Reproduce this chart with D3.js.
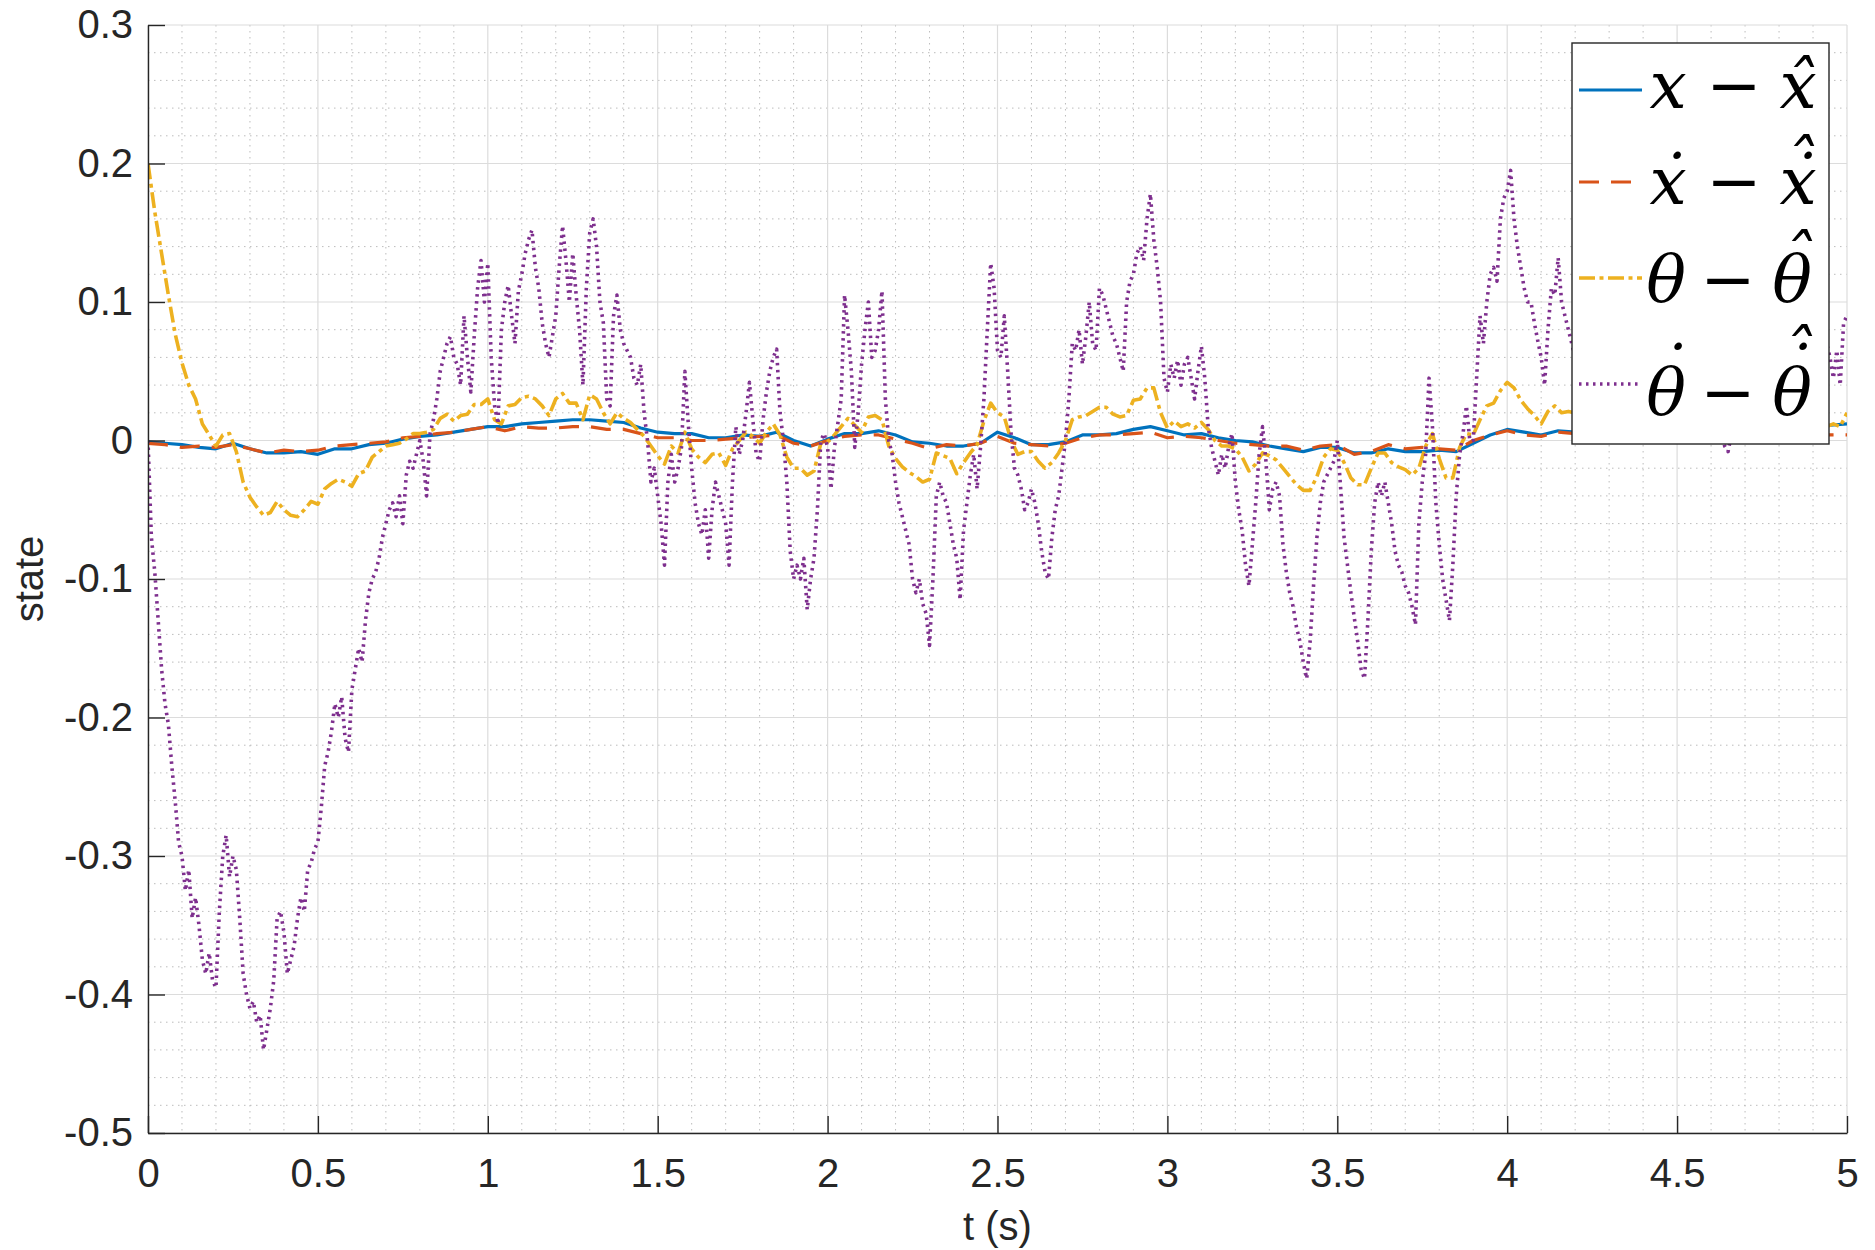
<!DOCTYPE html>
<html>
<head>
<meta charset="utf-8">
<script src="https://cdn.jsdelivr.net/npm/d3@7"></script>
<style>
body { margin: 0; background: #fff; }
</style>
</head>
<body>
<svg id="chart" width="1875" height="1250"></svg>
<script>
var WIDTH = 1875,
    HEIGHT = 1250;

// axis ticks
var xTicks = [0, 0.5, 1, 1.5, 2, 2.5, 3, 3.5, 4, 4.5, 5],
    xTickLabels = ['0', '0.5', '1', '1.5', '2', '2.5', '3', '3.5', '4', '4.5', '5'],
    yTicks = [-0.5, -0.4, -0.3, -0.2, -0.1, 0, 0.1, 0.2, 0.3],
    yTickLabels = ['-0.5', '-0.4', '-0.3', '-0.2', '-0.1', '0', '0.1', '0.2', '0.3'];

// sample spacing (s) of each series, first sample at t = 0
var stepX = 0.05, stepXdot = 0.05, stepTheta = 0.02, stepThetaDot = 0.01;

// x - xhat
var errX = [
    -0.001, -0.002, -0.003, -0.005, -0.006, -0.002, -0.006, -0.009, -0.009, -0.008,
    -0.01, -0.006, -0.006, -0.003, -0.002, 0.001, 0.003, 0.004, 0.006, 0.008,
    0.01, 0.01, 0.012, 0.013, 0.014, 0.015, 0.015, 0.014, 0.013, 0.009,
    0.006, 0.005, 0.005, 0.002, 0.002, 0.004, 0.003, 0.006, 0.0, -0.004,
    0.001, 0.005, 0.005, 0.007, 0.004, -0.001, -0.002, -0.004, -0.004, -0.002,
    0.006, 0.002, -0.003, -0.003, -0.001, 0.004, 0.004, 0.005, 0.008, 0.01,
    0.007, 0.004, 0.005, 0.002, 0.0, -0.001, -0.004, -0.006, -0.008, -0.005,
    -0.005, -0.009, -0.009, -0.006, -0.008, -0.008, -0.007, -0.008, -0.002, 0.004,
    0.008, 0.006, 0.004, 0.007, 0.006, 0.006, 0.005, 0.006, 0.007, 0.006,
    0.005, 0.006, 0.007, 0.008, 0.007, 0.008, 0.009, 0.008, 0.009, 0.011,
    0.012
];

// xdot - xdothat
var errXdot = [
    -0.002, -0.003, -0.005, -0.004, -0.005, -0.003, -0.006, -0.009, -0.007, -0.008,
    -0.007, -0.004, -0.003, -0.002, -0.001, 0.002, 0.003, 0.005, 0.006, 0.008,
    0.01, 0.007, 0.01, 0.009, 0.009, 0.01, 0.01, 0.008, 0.008, 0.005,
    0.002, 0.002, 0.0, 0.0, 0.001, 0.002, 0.003, 0.004, -0.002, -0.004,
    0.0, 0.003, 0.004, 0.004, 0.001, -0.002, -0.006, -0.003, -0.004, -0.002,
    0.003, -0.002, -0.003, -0.004, -0.002, 0.002, 0.004, 0.004, 0.005, 0.006,
    0.002, 0.003, 0.002, 0.0, -0.002, -0.003, -0.004, -0.004, -0.007, -0.004,
    -0.003, -0.01, -0.008, -0.003, -0.006, -0.005, -0.006, -0.007, 0.0, 0.004,
    0.007, 0.004, 0.003, 0.006, 0.005, 0.004, 0.005, 0.004, 0.003, 0.004,
    0.005, 0.004, 0.003, 0.004, 0.005, 0.004, 0.003, 0.004, 0.004, 0.004,
    0.004
];

// theta - thetahat
var errTheta = [
    0.2, 0.165, 0.135, 0.105, 0.077, 0.056, 0.04, 0.03, 0.012, 0.004,
    -0.004, 0.004, 0.005, -0.008, -0.03, -0.041, -0.048, -0.054, -0.052, -0.044,
    -0.05, -0.054, -0.055, -0.05, -0.044, -0.046, -0.035, -0.031, -0.028, -0.03,
    -0.033, -0.024, -0.022, -0.012, -0.008, -0.004, -0.003, -0.002, 0.001, 0.005,
    0.005, 0.006, 0.008, 0.016, 0.019, 0.014, 0.018, 0.019, 0.026, 0.026,
    0.03, 0.015, 0.012, 0.025, 0.026, 0.031, 0.032, 0.03, 0.025, 0.018,
    0.03, 0.034, 0.027, 0.027, 0.015, 0.033, 0.03, 0.02, 0.012, 0.02,
    0.016, 0.013, 0.008, 0.003, -0.004, -0.011, -0.017, -0.004, -0.009, 0.006,
    -0.006, -0.012, -0.016, -0.01, -0.009, -0.018, -0.006, 0.0, 0.006, 0.003,
    -0.002, 0.006, 0.012, 0.004, -0.012, -0.02, -0.02, -0.025, -0.022, -0.002,
    -0.001, 0.004, 0.01, 0.016, 0.011, 0.006, 0.017, 0.018, 0.015, -0.004,
    -0.013, -0.019, -0.023, -0.026, -0.03, -0.028, -0.009, -0.011, -0.013, -0.024,
    -0.016, -0.009, -0.003, 0.014, 0.027, 0.02, 0.017, 0.0, -0.01, -0.008,
    -0.008, -0.015, -0.02, -0.016, -0.009, 0.0, 0.015, 0.017, 0.018, 0.021,
    0.024, 0.024, 0.019, 0.017, 0.018, 0.029, 0.03, 0.038, 0.038, 0.02,
    0.009, 0.014, 0.01, 0.012, 0.009, 0.013, 0.008, 0.0, -0.004, -0.004,
    -0.006, -0.012, -0.022, -0.017, -0.009, -0.011, -0.014, -0.02, -0.026, -0.032,
    -0.036, -0.036, -0.026, -0.012, -0.006, -0.007, -0.016, -0.027, -0.032, -0.032,
    -0.02, -0.009, -0.009, -0.016, -0.019, -0.021, -0.025, -0.02, -0.004, 0.005,
    -0.013, -0.027, -0.027, -0.005, 0.005, 0.004, 0.015, 0.025, 0.027, 0.036,
    0.042, 0.038, 0.029, 0.023, 0.018, 0.012, 0.021, 0.025, 0.02, 0.021,
    0.02, 0.018, 0.015, 0.017, 0.02, 0.018, 0.015, 0.012, 0.014, 0.016,
    0.018, 0.02, 0.017, 0.015, 0.012, 0.01, 0.013, 0.015, 0.018, 0.016,
    0.014, 0.012, 0.015, 0.017, 0.016, 0.014, 0.012, 0.011, 0.013, 0.015,
    0.016, 0.014, 0.012, 0.01, 0.012, 0.013, 0.012, 0.01, 0.012, 0.01,
    0.02
];

// thetadot - thetadothat
var errThetaDot = [
    0.0, -0.07, -0.095, -0.13, -0.165, -0.19, -0.205, -0.235, -0.26, -0.29,
    -0.30, -0.325, -0.31, -0.345, -0.33, -0.35, -0.375, -0.385, -0.37, -0.39,
    -0.395, -0.34, -0.30, -0.285, -0.315, -0.30, -0.31, -0.345, -0.385, -0.40,
    -0.41, -0.405, -0.42, -0.415, -0.44, -0.425, -0.41, -0.39, -0.345, -0.34,
    -0.355, -0.385, -0.375, -0.365, -0.345, -0.33, -0.34, -0.31, -0.305, -0.295,
    -0.29, -0.265, -0.235, -0.225, -0.21, -0.19, -0.2, -0.185, -0.215, -0.225,
    -0.18, -0.165, -0.15, -0.16, -0.13, -0.11, -0.1, -0.095, -0.085, -0.07,
    -0.06, -0.05, -0.045, -0.055, -0.04, -0.06, -0.025, -0.015, -0.02, -0.01,
    0.0, -0.015, -0.04, 0.005, 0.015, 0.03, 0.05, 0.06, 0.07, 0.075,
    0.06, 0.055, 0.04, 0.09, 0.06, 0.035, 0.075, 0.11, 0.13, 0.1,
    0.128, 0.06, 0.025, 0.012, 0.08, 0.1, 0.112, 0.09, 0.07, 0.108,
    0.12, 0.135, 0.145, 0.152, 0.125, 0.11, 0.085, 0.07, 0.06, 0.075,
    0.09, 0.125, 0.155, 0.13, 0.1, 0.135, 0.105, 0.08, 0.04, 0.11,
    0.15, 0.16, 0.14, 0.1, 0.085, 0.03, 0.025, 0.09, 0.105, 0.08,
    0.07, 0.065, 0.06, 0.045, 0.04, 0.055, 0.02, 0.0, -0.03, -0.02,
    -0.04, -0.06, -0.09, -0.03, -0.01, -0.03, -0.02, -0.005, 0.05, 0.012,
    -0.02, -0.045, -0.06, -0.068, -0.05, -0.085, -0.05, -0.03, -0.04, -0.05,
    -0.06, -0.09, -0.03, 0.01, -0.01, 0.0, 0.02, 0.042, 0.015, -0.01,
    -0.015, 0.015, 0.035, 0.05, 0.06, 0.066, 0.02, 0.0, -0.03, -0.08,
    -0.1, -0.09, -0.1, -0.085, -0.122, -0.1, -0.085, -0.05, 0.0, 0.005,
    -0.005, -0.035, -0.005, 0.012, 0.03, 0.105, 0.08, 0.05, -0.005, 0.02,
    0.055, 0.08, 0.1, 0.06, 0.065, 0.08, 0.108, 0.03, 0.0, -0.01,
    -0.03, -0.045, -0.055, -0.065, -0.075, -0.1, -0.11, -0.1, -0.118, -0.125,
    -0.148, -0.1, -0.04, -0.03, -0.04, -0.045, -0.06, -0.075, -0.085, -0.115,
    -0.065, -0.045, -0.025, -0.01, -0.035, -0.005, 0.03, 0.08, 0.128, 0.11,
    0.065, 0.06, 0.09, 0.05, 0.005, -0.02, -0.025, -0.035, -0.05, -0.045,
    -0.035, -0.045, -0.06, -0.08, -0.095, -0.1, -0.07, -0.05, -0.04, -0.02,
    0.0, 0.03, 0.07, 0.065, 0.08, 0.055, 0.075, 0.1, 0.07, 0.065,
    0.11, 0.105, 0.095, 0.085, 0.075, 0.07, 0.06, 0.05, 0.1, 0.115,
    0.12, 0.135, 0.14, 0.13, 0.16, 0.178, 0.145, 0.125, 0.1, 0.045,
    0.035, 0.055, 0.045, 0.058, 0.04, 0.055, 0.06, 0.045, 0.03, 0.05,
    0.068, 0.045, 0.01, -0.005, -0.015, -0.025, -0.01, -0.02, -0.005, 0.005,
    -0.03, -0.05, -0.065, -0.09, -0.105, -0.075, -0.045, -0.01, 0.01, -0.015,
    -0.05, -0.035, -0.03, -0.04, -0.075, -0.095, -0.11, -0.12, -0.135, -0.145,
    -0.16, -0.172, -0.145, -0.105, -0.07, -0.045, -0.03, -0.025, -0.02, -0.015,
    0.0, -0.035, -0.07, -0.09, -0.11, -0.128, -0.145, -0.165, -0.172, -0.13,
    -0.08, -0.045, -0.03, -0.04, -0.03, -0.045, -0.06, -0.08, -0.09, -0.095,
    -0.105, -0.11, -0.12, -0.133, -0.06, -0.03, -0.01, 0.045, 0.01, -0.045,
    -0.075, -0.1, -0.115, -0.13, -0.09, -0.04, -0.01, 0.005, 0.025, 0.0,
    0.0, 0.045, 0.09, 0.07, 0.1, 0.12, 0.125, 0.115, 0.16, 0.175,
    0.18, 0.195, 0.16, 0.14, 0.125, 0.11, 0.1, 0.1, 0.085, 0.072,
    0.06, 0.04, 0.08, 0.11, 0.105, 0.132, 0.1, 0.09, 0.08, 0.07,
    0.06, 0.05, 0.07, 0.04, 0.03, 0.05, 0.06, 0.04, 0.02, 0.03,
    0.05, 0.07, 0.06, 0.04, 0.03, 0.05, 0.04, 0.02, 0.03, 0.05,
    0.06, 0.04, 0.03, 0.02, 0.04, 0.05, 0.03, 0.02, 0.03, 0.04,
    0.06, 0.05, 0.03, 0.02, 0.04, 0.05, 0.04, 0.03, 0.02, 0.03,
    0.02, 0.015, 0.01, 0.005, -0.004, -0.008, 0.005, 0.02, 0.03, 0.04,
    0.05, 0.04, 0.03, 0.05, 0.06, 0.05, 0.04, 0.03, 0.04, 0.05,
    0.06, 0.07, 0.05, 0.04, 0.05, 0.06, 0.05, 0.04, 0.05, 0.06,
    0.07, 0.06, 0.05, 0.06, 0.07, 0.06, 0.045, 0.065, 0.04, 0.085,
    0.09
];

var series = [
    { values: errX, step: stepX, color: '#0072BD', dash: null, width: 3.2 },
    { values: errXdot, step: stepXdot, color: '#D95319', dash: '20,12', width: 3.2 },
    { values: errTheta, step: stepTheta, color: '#EDB120', dash: '16,4.5,4,4.5', width: 3.6 },
    { values: errThetaDot, step: stepThetaDot, color: '#7E2F8E', dash: '2.5,4.5', width: 3.6 }
];

// legend formulas: glyph, centre x, baseline y (one text per entry)
var legendGlyphs = [
    [['x', 1668, 108], ['\u2212', 1734, 108], ['x', 1798, 108], ['\u02C6', 1799, 107]],
    [['x', 1668, 204], ['\u02D9', 1671, 202], ['\u2212', 1734, 204], ['x', 1798, 204],
     ['\u02D9', 1802, 202], ['\u02C6', 1799, 186]],
    [['\u03B8', 1666, 302], ['\u2212', 1728, 302], ['\u03B8', 1792, 302], ['\u02C6', 1797, 281]],
    [['\u03B8', 1666, 415], ['\u02D9', 1672, 393], ['\u2212', 1728, 415], ['\u03B8', 1792, 415],
     ['\u02D9', 1797, 393], ['\u02C6', 1797, 376]]
];

var plot = { left: 148, right: 1847, top: 25, bottom: 1133 },
    ink = '#262626';

var x = d3.scaleLinear().domain([0, 5]).range([plot.left, plot.right]),
    y = d3.scaleLinear().domain([-0.5, 0.3]).range([plot.bottom, plot.top]);

var svg = d3.select('#chart');
svg.append('rect').attr('width', WIDTH).attr('height', HEIGHT).attr('fill', '#fff');

// minor grid first, then major grid on top of it
var grid = svg.append('g');
var xMinor = d3.range(0, 51).map(function (i) { return i / 10; })
        .filter(function (d, i) { return i % 5 !== 0; }),
    yMinor = d3.range(-25, 16).map(function (i) { return i / 50; })
        .filter(function (d, i) { return i % 5 !== 0; });

grid.selectAll('.xminor').data(xMinor).enter().append('line')
    .attr('x1', function (d) { return x(d); }).attr('x2', function (d) { return x(d); })
    .attr('y1', plot.top).attr('y2', plot.bottom)
    .attr('stroke', '#bcbcbc').attr('stroke-width', 1).attr('stroke-dasharray', '1.5,4.5');
grid.selectAll('.yminor').data(yMinor).enter().append('line')
    .attr('x1', plot.left).attr('x2', plot.right)
    .attr('y1', function (d) { return y(d); }).attr('y2', function (d) { return y(d); })
    .attr('stroke', '#bcbcbc').attr('stroke-width', 1).attr('stroke-dasharray', '1.5,4.5');
grid.selectAll('.xmajor').data(xTicks).enter().append('line')
    .attr('x1', function (d) { return x(d); }).attr('x2', function (d) { return x(d); })
    .attr('y1', plot.top).attr('y2', plot.bottom)
    .attr('stroke', '#dcdcdc').attr('stroke-width', 1.2);
grid.selectAll('.ymajor').data(yTicks).enter().append('line')
    .attr('x1', plot.left).attr('x2', plot.right)
    .attr('y1', function (d) { return y(d); }).attr('y2', function (d) { return y(d); })
    .attr('stroke', '#dcdcdc').attr('stroke-width', 1.2);

svg.append('clipPath').attr('id', 'clip').append('rect')
    .attr('x', plot.left).attr('y', plot.top)
    .attr('width', plot.right - plot.left).attr('height', plot.bottom - plot.top);

function make_line(step) {
    return d3.line()
        .x(function (d, i) { return x(i * step); })
        .y(function (d) { return y(d); });
}

var lines = svg.append('g').attr('clip-path', 'url(#clip)');
series.forEach(function (s) {
    lines.append('path')
        .attr('d', make_line(s.step)(s.values))
        .attr('fill', 'none')
        .attr('stroke', s.color)
        .attr('stroke-width', s.width)
        .attr('stroke-linejoin', 'round')
        .attr('stroke-dasharray', s.dash);
});

// axes: inward ticks, no box
var xAxis = d3.axisBottom(x).tickValues(xTicks)
    .tickFormat(function (d, i) { return xTickLabels[i]; })
    .tickSizeInner(-17).tickSizeOuter(0).tickPadding(26);
var yAxis = d3.axisLeft(y).tickValues(yTicks)
    .tickFormat(function (d, i) { return yTickLabels[i]; })
    .tickSizeInner(-17).tickSizeOuter(0).tickPadding(15);

function styleAxis(g) {
    g.attr('font-family', '"Liberation Sans", Arial, sans-serif').attr('font-size', 40);
    g.select('.domain').attr('stroke', ink).attr('stroke-width', 1.4);
    g.selectAll('.tick line').attr('stroke', ink).attr('stroke-width', 1.4);
    g.selectAll('.tick text').attr('fill', ink);
}

svg.append('g').attr('transform', 'translate(0,' + plot.bottom + ')').call(xAxis).call(styleAxis);
svg.append('g').attr('transform', 'translate(' + plot.left + ',0)').call(yAxis).call(styleAxis);

svg.append('text')
    .attr('x', (plot.left + plot.right) / 2).attr('y', 1240)
    .attr('text-anchor', 'middle')
    .attr('font-family', '"Liberation Sans", Arial, sans-serif').attr('font-size', 40)
    .attr('fill', ink)
    .text('t (s)');
svg.append('text')
    .attr('transform', 'translate(43,' + (plot.top + plot.bottom) / 2 + ') rotate(-90)')
    .attr('text-anchor', 'middle')
    .attr('font-family', '"Liberation Sans", Arial, sans-serif').attr('font-size', 40)
    .attr('fill', ink)
    .text('state');

// legend
var legend = svg.append('g');
legend.append('rect')
    .attr('x', 1572).attr('y', 43).attr('width', 257).attr('height', 401)
    .attr('fill', '#fff').attr('stroke', ink).attr('stroke-width', 1.4);

var rowLine = [90, 182, 278, 384];

series.forEach(function (s, i) {
    var glyphs = legendGlyphs[i];

    legend.append('line')
        .attr('x1', 1579).attr('x2', 1642)
        .attr('y1', rowLine[i]).attr('y2', rowLine[i])
        .attr('stroke', s.color).attr('stroke-width', s.width)
        .attr('stroke-dasharray', s.dash);

    // every glyph gets its own position inside a single text element
    legend.append('text')
        .attr('x', glyphs.map(function (g) { return g[1]; }).join(' '))
        .attr('y', glyphs.map(function (g) { return g[2]; }).join(' '))
        .attr('text-anchor', 'middle')
        .attr('font-family', '"DejaVu Serif", serif')
        .attr('font-style', 'italic')
        .attr('font-size', 66)
        .attr('fill', '#000')
        .text(glyphs.map(function (g) { return g[0]; }).join(''));
});
</script>
</body>
</html>
